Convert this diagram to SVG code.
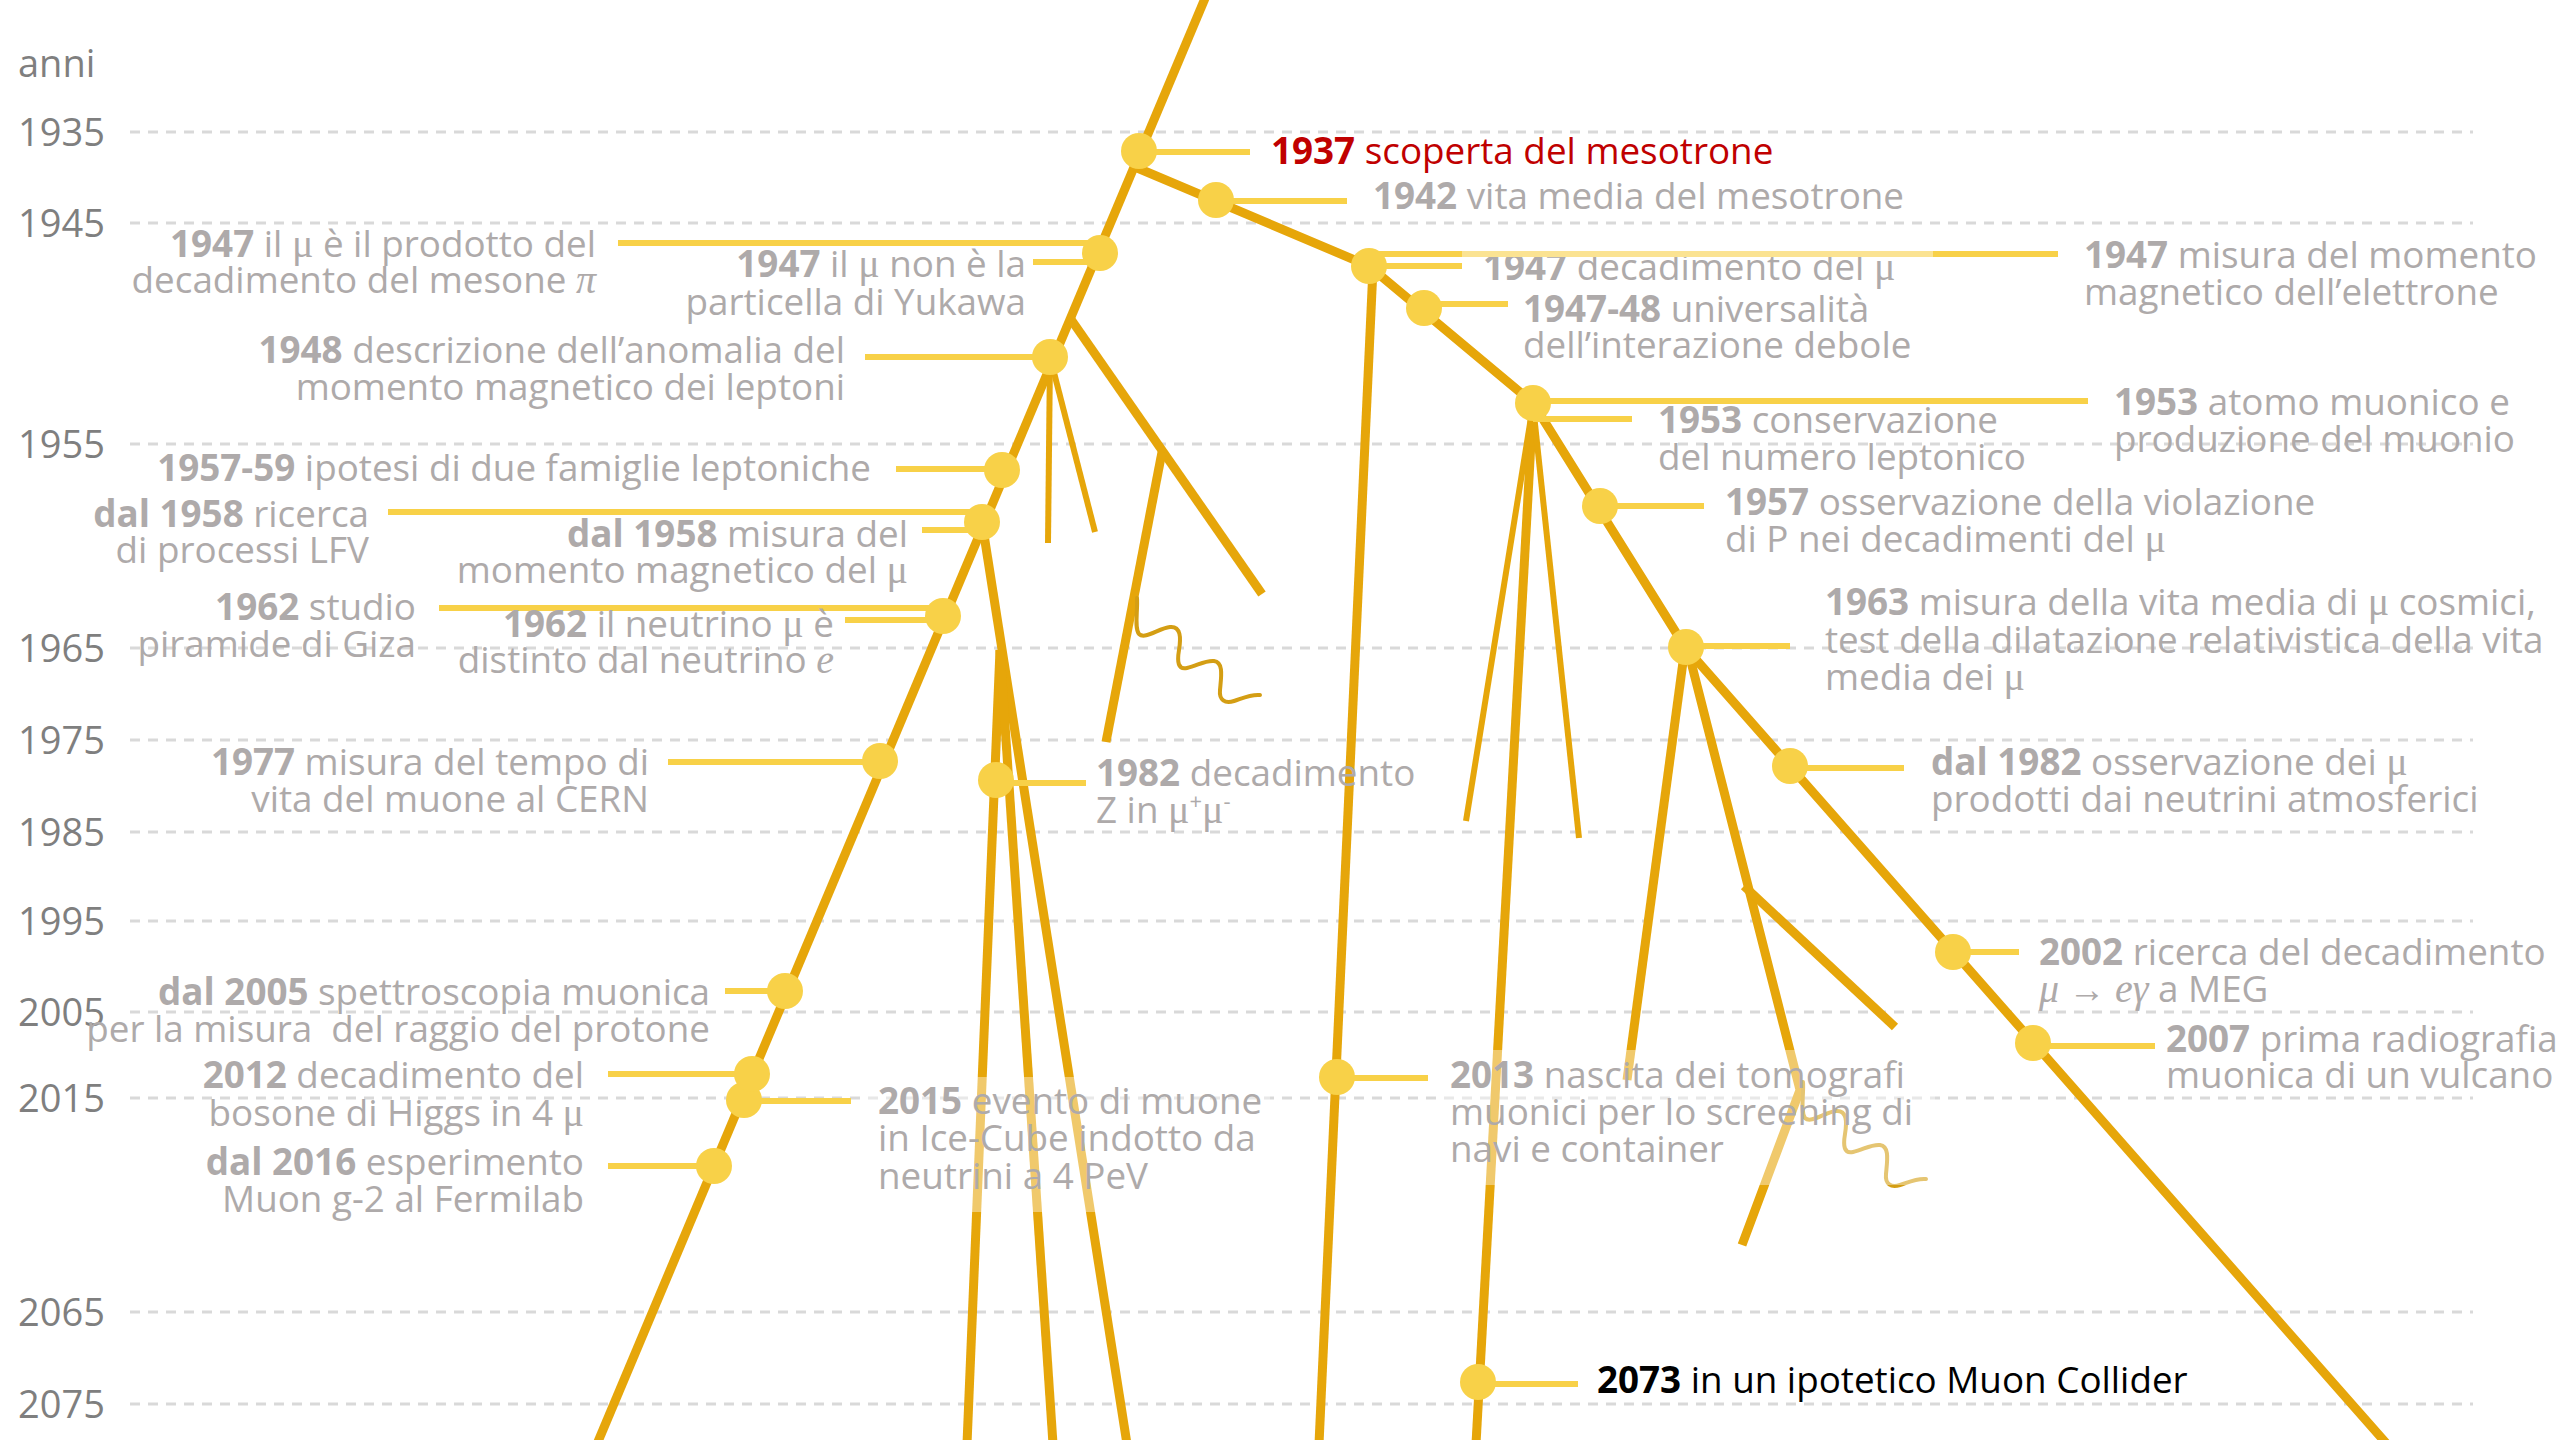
<svg xmlns="http://www.w3.org/2000/svg" width="2560" height="1440" viewBox="0 0 2560 1440">
<style>
  .grid line { stroke: #D9D9D9; stroke-width: 3; stroke-dasharray: 10 8; }
  .ax { font-family: "Open Sans", "Liberation Sans", sans-serif; font-size: 38px; fill: #7F7F7F; }
  .trk { fill: none; stroke: #E6A60A; stroke-width: 9; stroke-linejoin: round; }
  .thin { stroke-width: 6; }
  .wave { fill: none; stroke: #D49E14; stroke-width: 4; stroke-linecap: round; }
  .fade { fill: #FFFFFF; fill-opacity: 0.4; }
  .ld { stroke: #F8D148; stroke-width: 6; }
  .ldf { stroke: #FBE392; stroke-width: 6; }
  .dot { fill: #F8D148; }
  .lb { font-family: "Open Sans", "Liberation Sans", sans-serif; font-size: 36.8px; fill: #AEAAAA; }
  .r { text-anchor: end; }
  .b { font-weight: 700; }
  .g { font-family: "Liberation Serif", "DejaVu Serif", serif; font-size: 40px; }
  .i { font-style: italic; }
  .red { fill: #C00000; }
  .blk { fill: #000000; }
  .sup { font-size: 22px; }
</style>
<defs>
  <path id="squiggle" d="M0,0 C1,12 -3,30 2,36 C8,42 22,30 33,29 C44,28 44,40 42,52 C40,64 41,72 50,70 C60,68 68,62 77,63 C87,64 84,80 83,92 C82,102 88,106 97,103 C106,100 114,96 123,97"/>
</defs>

<!-- year axis -->
<g id="axis">
  <text class="ax" x="18" y="77">anni</text>
  <g class="grid">
    <line x1="130" x2="2473" y1="132" y2="132"/>
    <line x1="130" x2="2473" y1="223" y2="223"/>
    <line x1="130" x2="2473" y1="444" y2="444"/>
    <line x1="130" x2="2473" y1="648" y2="648"/>
    <line x1="130" x2="2473" y1="740" y2="740"/>
    <line x1="130" x2="2473" y1="832" y2="832"/>
    <line x1="130" x2="2473" y1="921" y2="921"/>
    <line x1="130" x2="2473" y1="1012" y2="1012"/>
    <line x1="130" x2="2473" y1="1098" y2="1098"/>
    <line x1="130" x2="2473" y1="1312" y2="1312"/>
    <line x1="130" x2="2473" y1="1404" y2="1404"/>
  </g>
  <text class="ax" x="18" y="146">1935</text>
  <text class="ax" x="18" y="237">1945</text>
  <text class="ax" x="18" y="458">1955</text>
  <text class="ax" x="18" y="662">1965</text>
  <text class="ax" x="18" y="754">1975</text>
  <text class="ax" x="18" y="846">1985</text>
  <text class="ax" x="18" y="935">1995</text>
  <text class="ax" x="18" y="1026">2005</text>
  <text class="ax" x="18" y="1112">2015</text>
  <text class="ax" x="18" y="1326">2065</text>
  <text class="ax" x="18" y="1418">2075</text>
</g>

<!-- particle tracks -->
<g id="connectors">
  <path class="trk" d="M1206,-4 L597,1444"/>
  <path class="trk" d="M1135,167 L1369,266 L1533,403 L1685,647 L2386,1443"/>
  <path class="trk" d="M1373,268 L1319,1444"/>
  <path class="trk" d="M1533,405 L1476,1444"/>
  <path class="trk thin" d="M1533,405 L1466,821"/>
  <path class="trk thin" d="M1533,405 L1579,838"/>
  <path class="trk" d="M1070,318 L1262,594"/>
  <path class="trk" d="M1162,452 L1106,742"/>
  <path class="trk thin" d="M1050,357 L1048,543"/>
  <path class="trk thin" d="M1050,357 L1095,532"/>
  <path class="trk" d="M982,522 L1127,1444"/>
  <path class="trk" d="M1000,650 L967,1444"/>
  <path class="trk" d="M1000,650 L1053,1444"/>
  <path class="trk" d="M1685,647 L1627,1080"/>
  <path class="trk" d="M1688,650 L1800,1090 L1742,1245"/>
  <path class="trk" d="M1744,886 L1895,1027"/>
  <use href="#squiggle" class="wave" transform="translate(1137,598)"/>
  <use href="#squiggle" class="wave" transform="translate(1803,1082)"/>
</g>

<!-- translucent backdrops behind the long labels -->
<g id="backdrops">
  <rect class="fade" x="1440" y="1050" width="495" height="135"/>
  <rect class="fade" x="865" y="1077" width="405" height="135"/>
</g>

<!-- events: right side -->
<g id="ev-1937">
  <line class="ld" x1="1139" y1="152" x2="1250" y2="152"/>
  <circle class="dot" cx="1139" cy="151" r="18"/>
  <text class="lb red" x="1271" y="164"><tspan class="b">1937</tspan> scoperta del mesotrone</text>
</g>
<g id="ev-1942">
  <line class="ld" x1="1216" y1="201" x2="1347" y2="201"/>
  <circle class="dot" cx="1216" cy="200" r="18"/>
  <text class="lb" x="1373" y="209"><tspan class="b">1942</tspan> vita media del mesotrone</text>
</g>
<g id="ev-1947-decay">
  <line class="ld" x1="1369" y1="266" x2="1462" y2="266"/>
  <circle class="dot" cx="1369" cy="266" r="18"/>
  <text class="lb" x="1483" y="280"><tspan class="b">1947</tspan> decadimento del <tspan class="g">μ</tspan></text>
</g>
<g id="ev-1947-electron">
  <line class="ld" x1="1369" y1="254" x2="1462" y2="254"/>
  <line class="ldf" x1="1462" y1="254" x2="1933" y2="254"/>
  <line class="ld" x1="1933" y1="254" x2="2058" y2="254"/>
  <text class="lb" x="2084" y="268"><tspan class="b">1947</tspan> misura del momento</text>
  <text class="lb" x="2084" y="305">magnetico dell’elettrone</text>
</g>
<g id="ev-1947-48">
  <line class="ld" x1="1424" y1="304" x2="1508" y2="304"/>
  <circle class="dot" cx="1424" cy="308" r="18"/>
  <text class="lb" x="1523" y="322"><tspan class="b">1947-48</tspan> universalità</text>
  <text class="lb" x="1523" y="358">dell’interazione debole</text>
</g>
<g id="ev-1953-number">
  <line class="ld" x1="1533" y1="419" x2="1632" y2="419"/>
  <circle class="dot" cx="1533" cy="403" r="18"/>
  <text class="lb" x="1658" y="433"><tspan class="b">1953</tspan> conservazione</text>
  <text class="lb" x="1658" y="470">del numero leptonico</text>
</g>
<g id="ev-1953-atom">
  <line class="ld" x1="1533" y1="401" x2="2088" y2="401"/>
  <text class="lb" x="2114" y="415"><tspan class="b">1953</tspan> atomo muonico e</text>
  <text class="lb" x="2114" y="452">produzione del muonio</text>
</g>
<g id="ev-1957">
  <line class="ld" x1="1600" y1="506" x2="1704" y2="506"/>
  <circle class="dot" cx="1600" cy="506" r="18"/>
  <text class="lb" x="1725" y="515"><tspan class="b">1957</tspan> osservazione della violazione</text>
  <text class="lb" x="1725" y="552">di P nei decadimenti del <tspan class="g">μ</tspan></text>
</g>
<g id="ev-1963">
  <line class="ld" x1="1686" y1="646" x2="1790" y2="646"/>
  <circle class="dot" cx="1686" cy="647" r="18"/>
  <text class="lb" x="1825" y="615"><tspan class="b">1963</tspan> misura della vita media di <tspan class="g">μ</tspan> cosmici,</text>
  <text class="lb" x="1825" y="653">test della dilatazione relativistica della vita</text>
  <text class="lb" x="1825" y="690">media dei <tspan class="g">μ</tspan></text>
</g>
<g id="ev-1982-atm">
  <line class="ld" x1="1790" y1="768" x2="1904" y2="768"/>
  <circle class="dot" cx="1790" cy="766" r="18"/>
  <text class="lb" x="1931" y="775"><tspan class="b">dal 1982</tspan> osservazione dei <tspan class="g">μ</tspan></text>
  <text class="lb" x="1931" y="812">prodotti dai neutrini atmosferici</text>
</g>
<g id="ev-2002">
  <line class="ld" x1="1953" y1="952" x2="2019" y2="952"/>
  <circle class="dot" cx="1953" cy="952" r="18"/>
  <text class="lb" x="2039" y="965"><tspan class="b">2002</tspan> ricerca del decadimento</text>
  <text class="lb" x="2039" y="1002"><tspan class="g i">μ</tspan> → <tspan class="g i">eγ</tspan> a MEG</text>
</g>
<g id="ev-2007">
  <line class="ld" x1="2033" y1="1046" x2="2155" y2="1046"/>
  <circle class="dot" cx="2033" cy="1043" r="18"/>
  <text class="lb" x="2166" y="1052"><tspan class="b">2007</tspan> prima radiografia</text>
  <text class="lb" x="2166" y="1088">muonica di un vulcano</text>
</g>
<g id="ev-2013">
  <line class="ld" x1="1337" y1="1078" x2="1428" y2="1078"/>
  <circle class="dot" cx="1337" cy="1077" r="18"/>
  <text class="lb" x="1450" y="1088"><tspan class="b">2013</tspan> nascita dei tomografi</text>
  <text class="lb" x="1450" y="1125">muonici per lo screening di</text>
  <text class="lb" x="1450" y="1162">navi e container</text>
</g>
<g id="ev-2073">
  <line class="ld" x1="1478" y1="1384" x2="1578" y2="1384"/>
  <circle class="dot" cx="1478" cy="1382" r="18"/>
  <text class="lb blk" x="1597" y="1393"><tspan class="b">2073</tspan> in un ipotetico Muon Collider</text>
</g>
<g id="ev-1982-z">
  <line class="ld" x1="996" y1="783" x2="1086" y2="783"/>
  <circle class="dot" cx="996" cy="780" r="18"/>
  <text class="lb" x="1096" y="786"><tspan class="b">1982</tspan> decadimento</text>
  <text class="lb" x="1096" y="823">Z in <tspan class="g">μ</tspan><tspan class="sup" dy="-14">+</tspan><tspan class="g" dy="14">μ</tspan><tspan class="sup" dy="-14">-</tspan></text>
</g>
<g id="ev-2015">
  <line class="ld" x1="744" y1="1101" x2="851" y2="1101"/>
  <circle class="dot" cx="744" cy="1100" r="18"/>
  <text class="lb" x="878" y="1114"><tspan class="b">2015</tspan> evento di muone</text>
  <text class="lb" x="878" y="1151">in Ice-Cube indotto da</text>
  <text class="lb" x="878" y="1189">neutrini a 4 PeV</text>
</g>

<!-- events: left side -->
<g id="ev-1947-pion">
  <line class="ld" x1="618" y1="243" x2="1100" y2="243"/>
  <circle class="dot" cx="1100" cy="253" r="18"/>
  <text class="lb r" x="596" y="257"><tspan class="b">1947</tspan> il <tspan class="g">μ</tspan> è il prodotto del</text>
  <text class="lb r" x="596" y="293">decadimento del mesone <tspan class="g i">π</tspan></text>
</g>
<g id="ev-1947-yukawa">
  <line class="ld" x1="1033" y1="262" x2="1100" y2="262"/>
  <text class="lb r" x="1026" y="277"><tspan class="b">1947</tspan> il <tspan class="g">μ</tspan> non è la</text>
  <text class="lb r" x="1026" y="315">particella di Yukawa</text>
</g>
<g id="ev-1948">
  <line class="ld" x1="865" y1="357" x2="1050" y2="357"/>
  <circle class="dot" cx="1050" cy="357" r="18"/>
  <text class="lb r" x="845" y="363"><tspan class="b">1948</tspan> descrizione dell’anomalia del</text>
  <text class="lb r" x="845" y="400">momento magnetico dei leptoni</text>
</g>
<g id="ev-1957-59">
  <line class="ld" x1="896" y1="469" x2="1002" y2="469"/>
  <circle class="dot" cx="1002" cy="470" r="18"/>
  <text class="lb r" x="871" y="481"><tspan class="b">1957-59</tspan> ipotesi di due famiglie leptoniche</text>
</g>
<g id="ev-1958-lfv">
  <line class="ld" x1="388" y1="512" x2="982" y2="512"/>
  <circle class="dot" cx="982" cy="522" r="18"/>
  <text class="lb r" x="369" y="527"><tspan class="b">dal 1958</tspan> ricerca</text>
  <text class="lb r" x="369" y="563">di processi LFV</text>
</g>
<g id="ev-1958-gm2">
  <line class="ld" x1="922" y1="530" x2="982" y2="530"/>
  <text class="lb r" x="908" y="547"><tspan class="b">dal 1958</tspan> misura del</text>
  <text class="lb r" x="908" y="583">momento magnetico del <tspan class="g">μ</tspan></text>
</g>
<g id="ev-1962-giza">
  <line class="ld" x1="439" y1="608" x2="943" y2="608"/>
  <circle class="dot" cx="943" cy="616" r="18"/>
  <text class="lb r" x="416" y="620"><tspan class="b">1962</tspan> studio</text>
  <text class="lb r" x="416" y="657">piramide di Giza</text>
</g>
<g id="ev-1962-neutrino">
  <line class="ld" x1="845" y1="620" x2="943" y2="620"/>
  <text class="lb r" x="834" y="637"><tspan class="b">1962</tspan> il neutrino <tspan class="g">μ</tspan> è</text>
  <text class="lb r" x="834" y="673">distinto dal neutrino <tspan class="g i">e</tspan></text>
</g>
<g id="ev-1977">
  <line class="ld" x1="668" y1="762" x2="880" y2="762"/>
  <circle class="dot" cx="880" cy="761" r="18"/>
  <text class="lb r" x="649" y="775"><tspan class="b">1977</tspan> misura del tempo di</text>
  <text class="lb r" x="649" y="812">vita del muone al CERN</text>
</g>
<g id="ev-2005">
  <line class="ld" x1="725" y1="991" x2="785" y2="991"/>
  <circle class="dot" cx="785" cy="991" r="18"/>
  <text class="lb r" x="710" y="1005"><tspan class="b">dal 2005</tspan> spettroscopia muonica</text>
  <text class="lb r" x="710" y="1042">per la misura&#160; del raggio del protone</text>
</g>
<g id="ev-2012">
  <line class="ld" x1="608" y1="1074" x2="752" y2="1074"/>
  <circle class="dot" cx="752" cy="1074" r="18"/>
  <text class="lb r" x="584" y="1088"><tspan class="b">2012</tspan> decadimento del</text>
  <text class="lb r" x="584" y="1126">bosone di Higgs in 4 <tspan class="g">μ</tspan></text>
</g>
<g id="ev-2016">
  <line class="ld" x1="608" y1="1166" x2="714" y2="1166"/>
  <circle class="dot" cx="714" cy="1166" r="18"/>
  <text class="lb r" x="584" y="1175"><tspan class="b">dal 2016</tspan> esperimento</text>
  <text class="lb r" x="584" y="1212">Muon g-2 al Fermilab</text>
</g>
</svg>
